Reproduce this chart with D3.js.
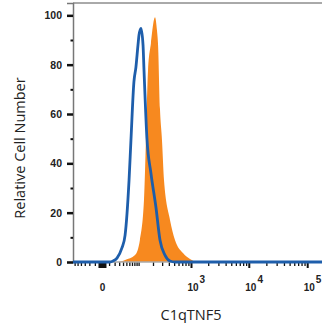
<!DOCTYPE html>
<html lang="en">
<head>
<meta charset="utf-8">
<script src="https://cdn.jsdelivr.net/npm/d3@7"></script>
<style>
  body { margin: 0; background: #fff; }
  svg { display: block; }
</style>
</head>
<body>
<script>
    // Fluorescence values (channel intensity) and relative counts
    const blueFl    = [-66, 11, 17, 25, 37, 46, 59, 66, 78, 87, 97, 102, 113, 125, 131, 151, 182, 229, 273, 339, 420, 518, 179000]
    const blueCount = [0, 0, 0.4, 1.6, 5.7, 10.9, 33.2, 49.4, 73, 79, 88, 91.9, 94.7, 88, 78, 50, 36, 22, 8.9, 2.8, 0.4, 0, 0]

    const orangeFl    = [-66, 27, 46, 83, 107, 131, 144, 159, 182, 219, 239, 250, 273, 298, 325, 420, 518, 721, 960, 1274, 179000]
    const orangeCount = [0, 0, 0.8, 2.8, 8.9, 25.1, 49.4, 77.7, 88.7, 99.2, 94, 88.7, 62, 49.4, 33.2, 17, 8.9, 3.6, 1.2, 0, 0]

    // Axis ticks
    const yMajor = [0, 20, 40, 60, 80, 100]
    const yMinor = [10, 30, 50, 70, 90]
    const xMajor = [1000, 10000, 100000]
    const xMajorLabels = ['3', '4', '5']
    const xMinor = [-60, -50, -40, -30, -20, -10, 10, 20, 30, 40, 50, 60, 70, 80, 90,
                    100, 200, 300, 400, 500, 600, 700, 800, 900,
                    2000, 3000, 4000, 5000, 6000, 7000, 8000, 9000,
                    20000, 30000, 40000, 50000, 60000, 70000, 80000, 90000]

    const w = 322
    const h = 323
    const margin = { left: 73, right: 322, top: 3, bottom: 262 }
    const tickFont = 'Liberation Sans, Arial, sans-serif'

    const x = d3.scaleSymlog().constant(31)
        .domain([-66, 179000])
        .range([margin.left, margin.right])
    const y = d3.scaleLinear()
        .domain([0, 105])
        .range([margin.bottom, margin.top])

    let svg = d3.select('body')
        .append('svg')
        .attr('width', w)
        .attr('height', h)

    // top frame line
    svg.append('line')
        .attr('x1', margin.left).attr('x2', margin.right)
        .attr('y1', margin.top).attr('y2', margin.top)
        .attr('stroke', '#555').attr('stroke-width', 1)

    // minor x ticks
    svg.append('g')
        .attr('transform', 'translate(0,' + margin.bottom + ')')
        .call(d3.axisBottom(x).tickValues(xMinor).tickSize(4).tickFormat(''))
        .call(g => g.select('.domain').remove())
        .selectAll('line').attr('stroke', '#111').attr('stroke-width', 1.3)

    // zero tick (drawn as a wide block)
    svg.append('g')
        .attr('transform', 'translate(0,' + margin.bottom + ')')
        .call(d3.axisBottom(x).tickValues([0]).tickSize(6).tickFormat(d => '0').tickPadding(16))
        .call(g => g.select('.domain').remove())
        .call(g => g.selectAll('line').attr('stroke', '#111').attr('stroke-width', 8))
        .call(g => g.selectAll('text')
            .attr('font-family', tickFont)
            .attr('font-weight', 'bold').attr('font-size', 10).attr('fill', '#222'))

    // major x ticks with power labels
    const xAx = svg.append('g')
        .attr('transform', 'translate(0,' + margin.bottom + ')')
        .call(d3.axisBottom(x).tickValues(xMajor).tickSize(6).tickFormat('').tickPadding(16))
        .call(g => g.select('.domain').remove())
    xAx.selectAll('line').attr('stroke', '#111').attr('stroke-width', 2)
    xAx.selectAll('text')
        .attr('font-family', tickFont)
        .attr('font-weight', 'bold').attr('font-size', 10).attr('fill', '#222')
        .attr('text-anchor', 'start')
        .attr('dx', -4)
        .each(function(d, i) {
            const t = d3.select(this)
            t.append('tspan').text('10')
            t.append('tspan').attr('dy', -8).attr('dx', 1).text(xMajorLabels[i])
        })

    // orange histogram (filled)
    const area = d3.area()
        .x((d, i) => x(orangeFl[i]))
        .y0(y(0))
        .y1((d, i) => y(orangeCount[i]))
        .curve(d3.curveMonotoneX)
    svg.append('path')
        .datum(orangeCount)
        .attr('fill', '#f7891f')
        .attr('d', area)

    // x axis line
    svg.append('line')
        .attr('x1', margin.left).attr('x2', margin.right)
        .attr('y1', y(0)).attr('y2', y(0))
        .attr('stroke', '#aaa').attr('stroke-width', 1.5)

    // y axis
    const yAxis = svg.append('g')
        .attr('transform', 'translate(' + margin.left + ',0)')
        .call(d3.axisLeft(y).tickValues(yMajor).tickSize(6).tickPadding(5))
    yAxis.select('.domain').attr('stroke', '#777').attr('stroke-width', 1.5)
    yAxis.selectAll('line').attr('stroke', '#111').attr('stroke-width', 2.5)
    yAxis.selectAll('text')
        .attr('font-family', tickFont)
        .attr('font-weight', 'bold').attr('font-size', 10.5).attr('fill', '#222')
    svg.append('g')
        .attr('transform', 'translate(' + margin.left + ',0)')
        .call(d3.axisLeft(y).tickValues(yMinor).tickSize(2.5).tickFormat(''))
        .call(g => g.select('.domain').remove())
        .selectAll('line').attr('stroke', '#111').attr('stroke-width', 2)

    // blue histogram (outline)
    const line = d3.line()
        .x((d, i) => x(blueFl[i]))
        .y((d, i) => y(blueCount[i]))
        .curve(d3.curveMonotoneX)
    svg.append('path')
        .datum(blueCount)
        .attr('fill', 'none')
        .attr('stroke', '#1e5eab')
        .attr('stroke-width', 2.8)
        .attr('stroke-linejoin', 'round')
        .attr('d', line)

    // axis titles
    svg.append('text')
        .attr('x', 191).attr('y', 320)
        .attr('text-anchor', 'middle')
        .attr('font-family', 'Open Sans, sans-serif')
        .attr('font-size', 14.5).attr('fill', '#222')
        .text('C1qTNF5')
    svg.append('text')
        .attr('transform', 'translate(25,148) rotate(-90)')
        .attr('text-anchor', 'middle')
        .attr('font-family', 'Open Sans, sans-serif')
        .attr('font-size', 14.5).attr('fill', '#222')
        .text('Relative Cell Number')
</script>
</body>
</html>
